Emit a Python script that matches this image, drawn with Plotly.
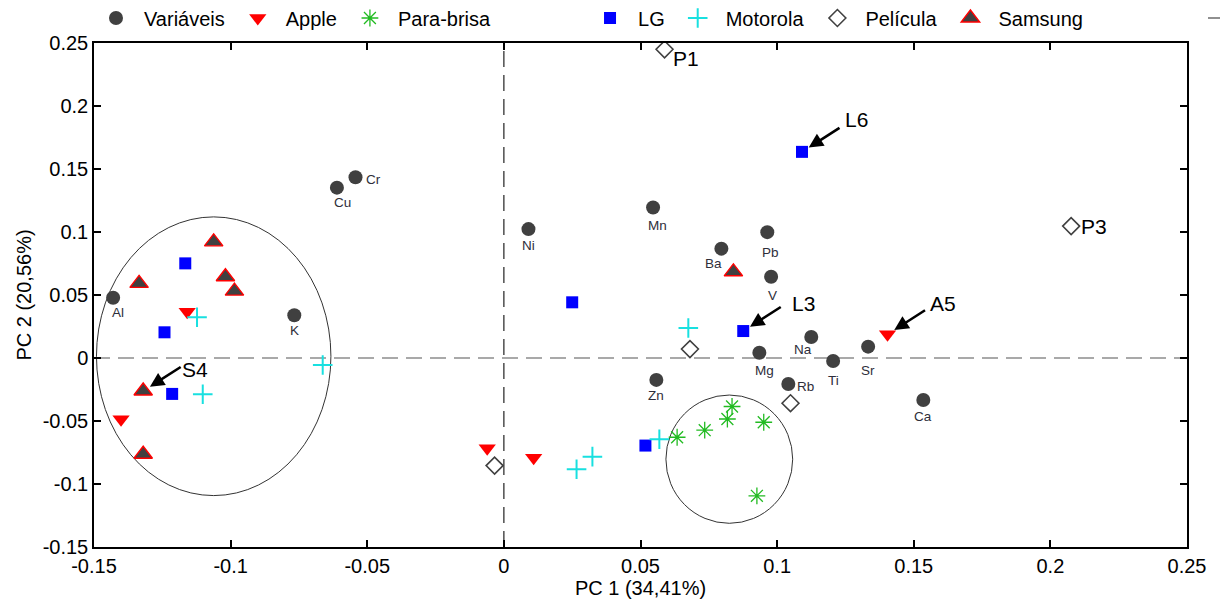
import plotly.graph_objects as go

# PCA scores and loadings (PC1, PC2)
var_names = ["Al", "Cu", "Cr", "K", "Ni", "Mn", "Ba", "Pb", "V", "Na", "Mg", "Ti", "Sr", "Rb", "Ca", "Zn"]
var_pc1 = [-0.1430, -0.0611, -0.0543, -0.0767, 0.0090, 0.0546, 0.0796, 0.0964, 0.0978, 0.1125, 0.0935, 0.1205, 0.1333, 0.1041, 0.1535, 0.0558]
var_pc2 = [0.0478, 0.1352, 0.1435, 0.0339, 0.1023, 0.1195, 0.0868, 0.0999, 0.0645, 0.0167, 0.0042, -0.0024, 0.0090, -0.0206, -0.0333, -0.0174]

apple_pc1 = [-0.1159, -0.1401, -0.0061, 0.0109, 0.1404]
apple_pc2 = [0.0367, -0.0486, -0.0716, -0.0791, 0.0188]

parabrisa_pc1 = [0.0634, 0.0735, 0.0818, 0.0835, 0.0951, 0.0926]
parabrisa_pc2 = [-0.0629, -0.0573, -0.0484, -0.0385, -0.0510, -0.1094]

lg_pc1 = [-0.1166, -0.1242, -0.1214, 0.0250, 0.0518, 0.0876, 0.1091]
lg_pc2 = [0.0751, 0.0204, -0.0285, 0.0442, -0.0695, 0.0214, 0.1636]

motorola_pc1 = [-0.1123, -0.1102, -0.0663, 0.0266, 0.0324, 0.0569, 0.0675]
motorola_pc2 = [0.0323, -0.0288, -0.0056, -0.0883, -0.0783, -0.0645, 0.0238]

pelicula_pc1 = [0.0588, 0.2076, 0.0681, 0.1049, -0.0034]
pelicula_pc2 = [0.2450, 0.1047, 0.0071, -0.0359, -0.0854]

samsung_pc1 = [-0.1062, -0.1335, -0.1019, -0.0986, -0.1320, -0.1320, 0.0840]
samsung_pc2 = [0.0922, 0.0592, 0.0645, 0.0531, -0.0262, -0.0764, 0.0684]

# labelled samples: name, point (PC1, PC2)
callouts = [("S4", -0.1320, -0.0262), ("L3", 0.0876, 0.0214), ("A5", 0.1404, 0.0188), ("L6", 0.1091, 0.1636)]
plain_labels = [("P1", 0.0588, 0.2450), ("P3", 0.2076, 0.1047)]

x_ticks = [-0.15, -0.1, -0.05, 0, 0.05, 0.1, 0.15, 0.2, 0.25]
y_ticks = [-0.15, -0.1, -0.05, 0, 0.05, 0.1, 0.15, 0.2, 0.25]

# grouping ellipses (x0, x1, y0, y1)
ellipses = [(-0.1491, -0.0633, -0.1092, 0.1120), (0.0593, 0.1057, -0.1312, -0.0294)]

DARK = "#404040"
FONT = "Liberation Sans, Arial, sans-serif"

# pixel offsets (dx right, dy down) of each variable label from its marker
label_shift = {
    "Al": (5, 15), "Cu": (6, 15), "Cr": (18, 2), "K": (0, 15), "Ni": (0, 16),
    "Mn": (4, 18), "Ba": (-8, 15), "Pb": (3, 20), "V": (1, 19), "Na": (-8, 13),
    "Mg": (5, 18), "Ti": (0, 19), "Sr": (0, 24), "Rb": (17, 3), "Ca": (0, 17),
    "Zn": (0, 16),
}
# pixel offsets of callout texts from the marked sample
callout_shift = {"S4": (52, 22), "L3": (60, 28), "A5": (55, 31), "L6": (55, 32)}
plain_shift = {"P1": (6, -9), "P3": (8, 0)}

fig = go.Figure()
fig.add_trace(go.Scatter(
    x=var_pc1, y=var_pc2, name="Variáveis", mode="markers", legend="legend",
    marker=dict(symbol="circle", size=14, color=DARK),
))
fig.add_trace(go.Scatter(
    x=apple_pc1, y=apple_pc2, name="Apple", mode="markers", legend="legend",
    marker=dict(symbol="triangle-down", size=15, color="#ff0000"),
))
fig.add_trace(go.Scatter(
    x=parabrisa_pc1, y=parabrisa_pc2, name="Para-brisa", mode="markers", legend="legend",
    marker=dict(symbol="asterisk-open", size=14, color="#22bb22",
                line=dict(width=1.3, color="#22bb22")),
))
fig.add_trace(go.Scatter(
    x=lg_pc1, y=lg_pc2, name="LG", mode="markers", legend="legend2",
    marker=dict(symbol="square", size=12, color="#0000ff"),
))
fig.add_trace(go.Scatter(
    x=motorola_pc1, y=motorola_pc2, name="Motorola", mode="markers", legend="legend2",
    marker=dict(symbol="cross-thin-open", size=14, color="#18e0e0",
                line=dict(width=2, color="#18e0e0")),
))
fig.add_trace(go.Scatter(
    x=pelicula_pc1, y=pelicula_pc2, name="Película", mode="markers", legend="legend2",
    marker=dict(symbol="diamond-open", size=13, color=DARK,
                line=dict(width=1.6, color=DARK)),
))
fig.add_trace(go.Scatter(
    x=samsung_pc1, y=samsung_pc2, name="Samsung", mode="markers", legend="legend2",
    marker=dict(symbol="triangle-up", size=16, color=DARK,
                line=dict(width=1.4, color="#ff0000")),
))
# legend key for the grouping ellipses (runs off the right edge)
fig.add_trace(go.Scatter(
    x=[None], y=[None], name=" ", mode="lines", legend="legend3",
    line=dict(color="#222222", width=1.2),
))

shapes = [
    dict(type="line", xref="x", yref="paper", x0=0, x1=0, y0=0, y1=1,
         line=dict(color="#222222", width=1.2, dash="16px,8px"), layer="below"),
    dict(type="line", xref="paper", yref="y", x0=0, x1=1, y0=0, y1=0,
         line=dict(color="#555555", width=1.2, dash="16px,8px"), layer="below"),
]
for x0, x1, y0, y1 in ellipses:
    shapes.append(dict(type="circle", xref="x", yref="y", x0=x0, x1=x1, y0=y0, y1=y1,
                       line=dict(color="#333333", width=1), layer="below"))

annotations = []
for name, px, py in zip(var_names, var_pc1, var_pc2):
    dx, dy = label_shift[name]
    annotations.append(dict(
        x=px, y=py, xref="x", yref="y", text=name, showarrow=False,
        xshift=dx, yshift=-dy, font=dict(size=13.5, color="#2e2e3a", family=FONT),
    ))
for name, px, py in callouts:
    annotations.append(dict(
        x=px, y=py, xref="x", yref="y", text="", showarrow=True,
        ax=39, ay=-25, axref="pixel", ayref="pixel",
        arrowhead=2, arrowsize=1.1, arrowwidth=2.6, arrowcolor="black",
        standoff=8,
    ))
    dx, dy = callout_shift[name]
    annotations.append(dict(
        x=px, y=py, xref="x", yref="y", text=name, showarrow=False,
        xshift=dx, yshift=dy, font=dict(size=21, color="black", family=FONT),
    ))
for name, px, py in plain_labels:
    dx, dy = plain_shift[name]
    annotations.append(dict(
        x=px, y=py, xref="x", yref="y", text=name, showarrow=False,
        xanchor="left", xshift=dx, yshift=dy,
        font=dict(size=21, color="black", family=FONT),
    ))

axis_common = dict(
    showgrid=False, zeroline=False, showline=True, mirror="allticks",
    linecolor="black", linewidth=1.5, ticks="inside", ticklen=7,
    tickwidth=1.5, tickcolor="black",
    tickfont=dict(size=20, color="black", family=FONT),
)

legend_common = dict(
    orientation="h", xref="paper", yref="paper",
    y=1.0496, xanchor="left", yanchor="middle",
    itemwidth=46, font=dict(size=20, color="black", family=FONT),
    bgcolor="rgba(0,0,0,0)", borderwidth=0,
)

fig.update_layout(
    width=1220, height=603,
    margin=dict(l=94, r=33, t=43, b=56, autoexpand=False),
    paper_bgcolor="white", plot_bgcolor="white",
    font=dict(family=FONT, color="black"),
    shapes=shapes, annotations=annotations,
    xaxis=dict(range=[-0.15, 0.25], tickvals=x_ticks,
               ticktext=[f"{v:g}" for v in x_ticks],
               title=dict(text="PC 1 (34,41%)", font=dict(size=20), standoff=2),
               **axis_common),
    yaxis=dict(range=[-0.15, 0.25], tickvals=y_ticks,
               ticktext=[f"{v:g}" for v in y_ticks],
               title=dict(text="PC 2 (20,56%)", font=dict(size=20), standoff=6),
               **axis_common),
    legend=dict(x=-0.0055, **legend_common),
    legend2=dict(x=0.4465, **legend_common),
    legend3=dict(x=1.0146, **legend_common),
    showlegend=True,
)

fig.write_html("out.html")
